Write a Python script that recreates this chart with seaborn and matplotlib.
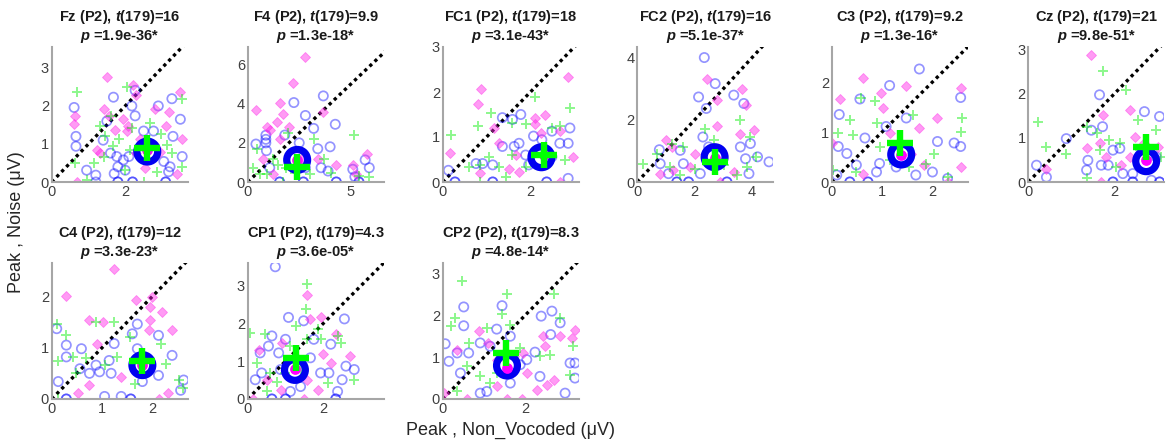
import numpy as np
import matplotlib
matplotlib.use("Agg")
import matplotlib.pyplot as plt
import seaborn as sns

# ---------------- data ----------------
electrodes = ["Fz", "F4", "FC1", "FC2", "C3", "Cz", "C4", "CP1", "CP2"]
t_values = ["16", "9.9", "18", "16", "9.2", "21", "12", "4.3", "8.3"]
p_values = ["1.9e-36", "1.3e-18", "3.1e-43", "5.1e-37", "1.3e-16", "9.8e-51", "3.3e-23", "3.6e-05", "4.8e-14"]

x_max = [3.7, 6.6, 3.1, 4.75, 2.7, 3.15, 2.7, 3.6, 3.3]
y_max = [3.55, 6.9, 3.0, 4.35, 2.7, 3.05, 2.65, 3.6, 3.25]
x_ticks = [[0, 2], [0, 5], [0, 2], [0, 2, 4], [0, 1, 2], [0, 2], [0, 1, 2], [0, 2], [0, 2]]
y_ticks = [[0, 1, 2, 3], [0, 2, 4, 6], [0, 1, 2, 3], [0, 2, 4], [0, 1, 2], [0, 1, 2, 3], [0, 1, 2], [0, 1, 2, 3], [0, 1, 2, 3]]

# group means (big markers)
mean_circ_x = [2.6, 2.4, 2.25, 2.7, 1.38, 2.73, 1.8, 1.25, 1.56]
mean_circ_y = [0.8, 1.13, 0.55, 0.8, 0.55, 0.47, 0.66, 0.77, 0.8]
mean_diam_x = [2.6, 2.4, 2.3, 2.7, 1.38, 2.73, 1.8, 1.25, 1.56]
mean_diam_y = [0.85, 1.1, 0.6, 0.78, 0.55, 0.5, 0.66, 0.8, 0.75]
mean_plus_x = [2.6, 2.4, 2.3, 2.7, 1.35, 2.73, 1.8, 1.27, 1.53]
mean_plus_y = [0.9, 0.75, 0.6, 0.65, 0.78, 0.8, 0.75, 1.08, 1.1]

# Fz
fz_circ_x = [0.61, 0.66, 0.66, 0.95, 1.2, 1.68, 2.27, 2.27, 2.18, 1.5, 1.4, 1.6, 1.77, 1.95, 2.1, 1.8, 2.0, 1.7, 2.5, 2.77, 2.9, 3.27, 3.5, 3.3, 3.55, 3.22, 3.18, 3.05, 3.1, 3.1, 2.2, 2.2, 1.8, 1.8, 1.2]
fz_circ_y = [1.96, 1.2, 0.94, 0.31, 0.18, 2.23, 2.41, 1.74, 2.0, 1.6, 1.1, 0.76, 0.67, 0.58, 0.67, 0.4, 0.31, 0.22, 1.34, 1.34, 2.0, 2.19, 1.65, 1.2, 0.67, 0.4, 0.27, 0.54, 0.0, 0.0, 0.0, 0.0, 0.0, 0.0, 0.0]
fz_diam_x = [1.5, 0.64, 0.61, 1.41, 2.2, 2.3, 1.55, 1.72, 2.05, 1.95, 2.07, 1.32, 1.23, 2.4, 2.7, 2.95, 3.4, 3.18, 3.5, 3.55, 2.55, 0.68, 3.1, 2.8, 2.3]
fz_diam_y = [2.77, 1.74, 1.52, 1.92, 2.56, 2.28, 1.74, 1.38, 1.34, 1.65, 1.47, 0.76, 0.85, 1.12, 0.94, 0.8, 0.22, 1.83, 2.37, 1.12, 0.36, 0.0, 1.47, 1.92, 0.76]
fz_plus_x = [0.68, 2.05, 1.32, 1.6, 1.45, 1.68, 1.41, 1.14, 0.95, 2.0, 2.5, 2.68, 2.98, 3.55, 3.27, 3.55, 2.86, 1.82, 2.14, 0.64, 2.18, 3.14]
fz_plus_y = [2.37, 2.5, 1.47, 1.74, 1.2, 0.94, 0.67, 0.49, 0.05, 0.31, 0.0, 1.56, 1.25, 2.19, 0.76, 0.4, 0.27, 1.12, 0.85, 0.49, 1.43, 0.98]

# F4
f4_circ_x = [0.4, 0.88, 0.88, 0.88, 0.91, 1.07, 1.8, 2.24, 2.5, 2.8, 3.2, 3.4, 3.67, 4.0, 4.25, 3.56, 3.9, 5.1, 5.2, 5.7, 5.9, 1.55, 1.55, 2.7, 2.7, 5.4, 5.4, 4.3, 4.3, 2.8]
f4_circ_y = [1.94, 2.39, 2.18, 2.0, 1.6, 0.73, 2.4, 4.06, 2.0, 3.4, 2.74, 1.7, 4.4, 1.8, 2.95, 0.73, 0.56, 0.65, 0.27, 1.13, 0.73, 0.0, 0.0, 0.0, 0.0, 0.0, 0.0, 0.0, 0.0, 0.73]
f4_diam_x = [0.4, 1.07, 1.4, 1.55, 1.7, 2.2, 2.76, 3.64, 1.55, 2.0, 0.92, 0.76, 2.6, 3.4, 4.3, 5.1, 5.8, 5.25, 1.24]
f4_diam_y = [3.7, 2.66, 3.06, 4.03, 3.47, 5.05, 6.37, 3.6, 2.18, 2.82, 2.82, 1.2, 1.2, 1.2, 0.89, 0.89, 1.45, 0.4, 0.4]
f4_plus_x = [0.27, 0.43, 0.92, 1.24, 1.88, 1.96, 2.29, 3.24, 3.72, 4.04, 5.16, 5.88, 1.7, 0.6, 3.0, 1.47, 5.4]
f4_plus_y = [0.73, 1.7, 0.4, 1.2, 0.73, 2.5, 0.48, 2.18, 1.2, 0.48, 2.42, 0.24, 0.0, 0.4, 0.4, 0.89, 0.32]

# FC1
fc1_circ_x = [0.13, 0.28, 0.28, 0.76, 0.91, 1.14, 1.36, 1.59, 1.78, 1.63, 1.74, 1.36, 1.89, 2.07, 2.26, 2.49, 2.67, 2.86, 2.9, 2.49, 2.37, 2.37, 2.86, 1.14, 1.14, 1.96]
fc1_circ_y = [0.26, 0.0, 0.0, 0.41, 0.41, 0.38, 1.43, 1.39, 1.5, 0.79, 0.86, 0.79, 0.6, 1.02, 0.94, 1.13, 0.86, 0.86, 1.2, 0.56, 0.0, 0.0, 0.08, 0.0, 0.0, 0.38]
fc1_diam_x = [0.16, 0.88, 0.8, 1.18, 2.11, 2.34, 2.11, 2.67, 2.86, 1.29, 1.51, 1.74, 2.67, 1.66, 0.84, 2.23, 2.98]
fc1_diam_y = [0.64, 2.07, 1.73, 1.2, 1.43, 1.5, 1.28, 1.13, 2.33, 0.86, 0.3, 0.23, 0.0, 0.6, 0.19, 1.1, 0.56]
fc1_plus_x = [0.2, 0.8, 1.1, 1.59, 1.89, 2.11, 2.9, 2.49, 2.67, 0.84, 1.06, 1.29, 1.59, 1.89, 0.84, 1.44, 2.79, 0.61]
fc1_plus_y = [1.05, 1.24, 1.54, 1.32, 1.28, 1.88, 1.65, 1.2, 1.24, 0.38, 0.56, 0.34, 0.6, 0.34, 0.0, 0.11, 0.49, 0.34]

# FC2
fc2_circ_x = [0.77, 0.8, 1.09, 1.5, 1.61, 2.14, 2.34, 2.41, 2.72, 2.29, 2.49, 3.37, 3.72, 3.6, 3.95, 4.2, 4.6, 3.78, 2.2, 1.38, 1.38, 3.9, 1.79, 1.79, 3.13, 3.13]
fc2_circ_y = [1.04, 0.59, 0.27, 1.02, 0.59, 2.74, 4.01, 2.37, 3.17, 1.45, 1.13, 2.8, 2.53, 1.13, 1.24, 0.81, 0.65, 0.75, 0.27, 0.0, 0.0, 0.27, 0.0, 0.0, 0.0, 0.0]
fc2_diam_x = [1.0, 1.2, 0.8, 2.43, 2.78, 2.78, 3.66, 3.78, 4.07, 3.6, 2.02, 1.26, 2.9, 1.85, 3.37]
fc2_diam_y = [1.34, 1.13, 0.27, 3.33, 2.63, 1.8, 3.01, 2.47, 1.67, 1.56, 0.91, 0.38, 0.0, 0.48, 0.32]
fc2_plus_x = [0.21, 0.68, 1.2, 1.61, 2.37, 3.6, 3.95, 4.13, 3.84, 1.5, 1.15, 2.67, 2.02, 3.49, 3.02]
fc2_plus_y = [0.59, 0.91, 1.24, 1.13, 1.72, 1.99, 1.45, 0.81, 0.48, 0.22, 0.48, 1.34, 0.43, 0.22, 0.54]

# C3
c3_circ_x = [0.13, 0.15, 0.1, 0.3, 0.56, 0.66, 0.72, 0.72, 0.95, 0.89, 1.08, 1.15, 1.48, 1.74, 2.1, 2.0, 2.3, 2.43, 2.56, 2.56, 1.67, 0.49, 0.36, 0.36, 1.28]
c3_circ_y = [0.71, 1.35, 0.14, 0.57, 1.66, 0.88, 0.0, 0.0, 0.37, 0.2, 1.11, 1.93, 1.28, 2.26, 0.81, 0.2, 0.07, 0.78, 0.71, 1.69, 0.14, 0.34, 0.0, 0.0, 0.3]
c3_diam_x = [0.16, 0.62, 0.98, 1.02, 1.48, 1.74, 2.1, 2.56, 2.56, 2.3, 0.62, 1.57, 1.15, 1.84, 0.0]
c3_diam_y = [1.66, 2.09, 1.79, 1.49, 1.93, 1.08, 1.28, 1.89, 0.3, 0.0, 0.17, 0.57, 0.98, 0.34, 0.78]
c3_plus_x = [0.13, 0.36, 0.43, 0.59, 0.85, 0.89, 1.61, 2.59, 2.56, 1.87, 2.03, 2.3, 0.49, 1.15, 0.95, 1.54, 0.03]
c3_plus_y = [0.98, 1.25, 0.95, 1.69, 1.62, 1.18, 1.35, 1.28, 1.01, 0.37, 0.57, 0.1, 0.2, 0.44, 0.71, 0.3, 0.24]

# Cz
cz_circ_x = [0.19, 0.42, 0.88, 1.35, 1.46, 1.72, 1.65, 1.69, 1.85, 1.96, 2.12, 2.19, 2.42, 2.69, 3.04, 2.85, 1.38, 1.96, 1.96, 2.42, 2.42, 3.04, 3.04, 2.96]
cz_circ_y = [0.38, 0.11, 0.98, 0.27, 1.17, 1.25, 1.97, 0.38, 0.38, 0.72, 0.76, 0.19, 0.19, 1.59, 1.48, 0.04, 0.49, 0.0, 0.0, 0.0, 0.0, 0.0, 0.0, 0.57]
cz_diam_x = [1.46, 1.73, 1.65, 1.35, 2.35, 2.46, 2.35, 0.42, 1.81, 2.15, 1.69, 2.69, 3.0]
cz_diam_y = [2.88, 1.52, 0.87, 0.76, 1.63, 1.02, 0.57, 0.3, 0.57, 0.38, 0.0, 0.87, 0.8]
cz_plus_x = [0.23, 0.42, 0.88, 1.73, 2.27, 1.58, 1.88, 2.12, 1.35, 2.54, 2.96, 2.04, 1.35, 1.65, 2.58, 3.08]
cz_plus_y = [1.36, 0.8, 0.64, 2.5, 2.08, 1.1, 0.95, 0.87, 1.25, 1.4, 1.17, 0.34, 0.08, 0.72, 0.72, 0.57]

# C4
c4_circ_x = [0.1, 0.13, 0.29, 0.29, 0.56, 0.59, 0.75, 0.88, 0.95, 1.14, 1.24, 1.18, 1.05, 1.38, 1.57, 1.57, 1.6, 1.7, 1.7, 2.12, 2.12, 2.39, 2.62, 2.56, 1.8, 0.29, 0.29]
c4_circ_y = [1.37, 0.34, 1.05, 0.82, 0.59, 0.98, 0.5, 0.66, 0.53, 0.75, 1.08, 0.5, 0.05, 0.05, 0.0, 0.0, 1.27, 1.46, 0.98, 1.24, 0.46, 0.85, 0.37, 0.17, 0.34, 0.0, 0.0]
c4_diam_x = [0.28, 1.24, 0.74, 1.02, 1.67, 1.99, 1.96, 1.96, 2.18, 1.93, 2.39, 0.9, 1.38, 0.52, 2.14, 2.3, 0.74, 1.84]
c4_diam_y = [2.01, 2.53, 1.53, 1.5, 1.92, 1.98, 1.79, 1.53, 1.69, 1.34, 1.34, 1.08, 0.43, 0.11, 0.0, 0.11, 0.27, 0.75]
c4_plus_x = [0.1, 0.29, 0.13, 0.42, 0.68, 0.88, 1.24, 1.06, 1.29, 1.55, 1.74, 2.16, 2.26, 2.52, 2.61, 1.65, 0.13, 0.48]
c4_plus_y = [1.46, 1.24, 0.75, 0.82, 0.79, 1.5, 1.5, 0.66, 0.82, 1.21, 0.79, 1.08, 0.69, 0.37, 0.21, 0.3, 0.0, 0.5]

# CP1
cp1_circ_x = [0.73, 0.2, 0.33, 0.37, 0.64, 0.55, 0.82, 1.0, 1.08, 1.48, 1.75, 1.66, 1.93, 2.15, 2.2, 2.56, 2.6, 2.82, 2.5, 2.38, 2.33, 2.33, 1.0, 1.0, 0.64, 0.64, 1.13, 1.4, 0.87]
cp1_circ_y = [3.5, 0.51, 1.22, 0.69, 1.67, 1.4, 1.22, 1.58, 2.16, 2.07, 1.58, 1.09, 0.69, 0.69, 1.45, 2.12, 0.87, 0.78, 0.51, 0.2, 0.0, 0.0, 0.0, 0.0, 0.0, 0.0, 0.2, 0.33, 0.78]
cp1_diam_x = [1.58, 1.66, 1.93, 2.33, 1.98, 2.2, 0.29, 0.91, 1.31, 0.51, 0.87, 1.49, 0.15, 1.58, 2.7, 1.85]
cp1_diam_y = [2.74, 2.12, 2.16, 1.71, 1.18, 0.96, 1.31, 1.49, 1.0, 0.51, 0.24, 0.0, 0.0, 0.51, 1.13, 0.24]
cp1_plus_x = [1.58, 1.53, 0.06, 0.46, 0.24, 0.6, 0.78, 1.13, 1.27, 1.58, 1.85, 1.93, 2.38, 2.47, 2.12, 2.82, 0.51, 1.0, 1.4]
cp1_plus_y = [3.05, 2.38, 1.76, 1.71, 0.96, 0.69, 0.46, 1.4, 1.94, 1.58, 1.85, 1.58, 1.67, 1.49, 0.42, 0.51, 0.2, 0.69, 0.78]

# CP2
cp2_circ_x = [0.06, 0.15, 0.35, 0.51, 0.51, 0.43, 0.63, 0.91, 1.15, 1.31, 1.44, 1.64, 1.88, 2.24, 2.39, 2.65, 2.62, 2.85, 2.97, 3.09, 3.21, 3.21, 0.91, 1.07, 1.64, 2.36, 2.04]
cp2_circ_y = [1.32, 0.9, 1.1, 2.2, 1.75, 0.62, 1.1, 1.34, 1.26, 1.67, 2.23, 1.5, 0.82, 1.12, 1.98, 2.1, 1.54, 1.82, 0.14, 0.86, 0.5, 0.86, 0.14, 0.18, 0.38, 0.54, 0.94]
cp2_diam_x = [0.87, 1.11, 1.31, 1.55, 1.72, 1.96, 2.44, 2.48, 2.85, 3.13, 3.21, 2.69, 2.52, 2.28, 0.35, 0.59, 1.55, 1.92, 0.02, 1.31, 2.04]
cp2_diam_y = [1.62, 1.34, 0.94, 0.7, 1.02, 1.1, 1.5, 1.26, 1.5, 1.46, 1.66, 0.46, 0.34, 0.22, 1.18, 0.0, 0.0, 0.0, 0.14, 0.3, 0.62]
cp2_plus_x = [0.47, 0.19, 0.31, 0.63, 1.07, 1.44, 1.55, 1.64, 1.88, 2.36, 2.6, 2.69, 2.85, 3.17, 3.09, 0.59, 0.91, 1.15, 0.35, 1.31]
cp2_plus_y = [2.82, 1.74, 1.94, 1.34, 1.7, 2.02, 2.5, 1.78, 1.22, 1.02, 1.06, 2.5, 1.94, 1.26, 0.58, 0.78, 0.54, 0.38, 0.18, 0.62]

circ_x = [fz_circ_x, f4_circ_x, fc1_circ_x, fc2_circ_x, c3_circ_x, cz_circ_x, c4_circ_x, cp1_circ_x, cp2_circ_x]
circ_y = [fz_circ_y, f4_circ_y, fc1_circ_y, fc2_circ_y, c3_circ_y, cz_circ_y, c4_circ_y, cp1_circ_y, cp2_circ_y]
diam_x = [fz_diam_x, f4_diam_x, fc1_diam_x, fc2_diam_x, c3_diam_x, cz_diam_x, c4_diam_x, cp1_diam_x, cp2_diam_x]
diam_y = [fz_diam_y, f4_diam_y, fc1_diam_y, fc2_diam_y, c3_diam_y, cz_diam_y, c4_diam_y, cp1_diam_y, cp2_diam_y]
plus_x = [fz_plus_x, f4_plus_x, fc1_plus_x, fc2_plus_x, c3_plus_x, cz_plus_x, c4_plus_x, cp1_plus_x, cp2_plus_x]
plus_y = [fz_plus_y, f4_plus_y, fc1_plus_y, fc2_plus_y, c3_plus_y, cz_plus_y, c4_plus_y, cp1_plus_y, cp2_plus_y]

# ---------------- style ----------------
sns.set_theme(style="white")
plt.rcParams["font.family"] = ["Liberation Sans", "DejaVu Sans"]
plt.rcParams["mathtext.fontset"] = "custom"
plt.rcParams["mathtext.it"] = "Liberation Sans:italic:bold"
plt.rcParams["mathtext.rm"] = "Liberation Sans:bold"
plt.rcParams["mathtext.bf"] = "Liberation Sans:bold"

W, H = 1166, 442
fig = plt.figure(figsize=(W / 100, H / 100), dpi=100)

col_left = [51.7, 247.7, 442.7, 637.3, 831.7, 1028.3]
row_top = [47, 263]
row_bottom = [182, 399]
ax_w = 136

SPINE = "#a6a6a6"
LABEL = "#404040"

for i, name in enumerate(electrodes):
    r = 0 if i < 6 else 1
    c = i if i < 6 else i - 6
    left = col_left[c] / W
    bottom = 1 - row_bottom[r] / H
    height = (row_bottom[r] - row_top[r]) / H
    ax = fig.add_axes([left, bottom, ax_w / W, height])

    # identity line
    lim = max(x_max[i], y_max[i])
    ax.plot([0, lim], [0, lim], linestyle=(0, (1, 1.1)), color="black", lw=2.4, zorder=1)

    sns.scatterplot(x=circ_x[i], y=circ_y[i], ax=ax, marker="o", s=44,
                    facecolor="none", edgecolor="#0000ff", linewidth=1.25, alpha=0.42, zorder=2)
    sns.scatterplot(x=diam_x[i], y=diam_y[i], ax=ax, marker="D", s=26,
                    color="#ff22e8", edgecolor="#ff22e8", linewidth=0.6, alpha=0.45, zorder=2)
    sns.scatterplot(x=plus_x[i], y=plus_y[i], ax=ax, marker="+", s=56,
                    color="#00ee00", linewidth=1.4, alpha=0.45, zorder=2)

    # means
    sns.scatterplot(x=[mean_circ_x[i]], y=[mean_circ_y[i]], ax=ax, marker="o", s=225,
                    facecolor="none", edgecolor="#0000f0", linewidth=5.2, zorder=5)
    sns.scatterplot(x=[mean_diam_x[i]], y=[mean_diam_y[i]], ax=ax, marker="o", s=60,
                    color="#ff00ff", edgecolor="#ff00ff", linewidth=0, zorder=6)
    sns.scatterplot(x=[mean_plus_x[i]], y=[mean_plus_y[i]], ax=ax, marker="+", s=360,
                    color="#00ff00", linewidth=4.6, zorder=7)

    ax.set_xlim(0, x_max[i])
    ax.set_ylim(0, y_max[i])
    ax.set_xticks(x_ticks[i])
    ax.set_yticks(y_ticks[i])
    ax.set_xticklabels([str(v) for v in x_ticks[i]])
    ax.set_yticklabels([str(v) for v in y_ticks[i]])
    ax.tick_params(length=0, labelsize=10.5, labelcolor=LABEL, pad=2)
    for s in ["top", "right"]:
        ax.spines[s].set_visible(False)
    for s in ["left", "bottom"]:
        ax.spines[s].set_color(SPINE)
        ax.spines[s].set_linewidth(1.5)
    ax.set_facecolor("white")
    ax.set_xlabel("")
    ax.set_ylabel("")
    ax.set_title(f"{name} (P2), $t$(179)={t_values[i]}\n$p$ =" + p_values[i] + "*",
                 fontsize=10.5, fontweight="bold", color="#1a1a1a", pad=5, linespacing=1.15)

fig.text(17 / W, 1 - 222 / H, "Peak , Noise (\u03bcV)", rotation=90, ha="center", va="center",
         fontsize=13, color="#262626")
fig.text(510 / W, 1 - 430 / H, "Peak , Non_Vocoded (\u03bcV)", ha="center", va="center",
         fontsize=13, color="#262626")

fig.savefig("out.png", dpi=100, facecolor="white")
